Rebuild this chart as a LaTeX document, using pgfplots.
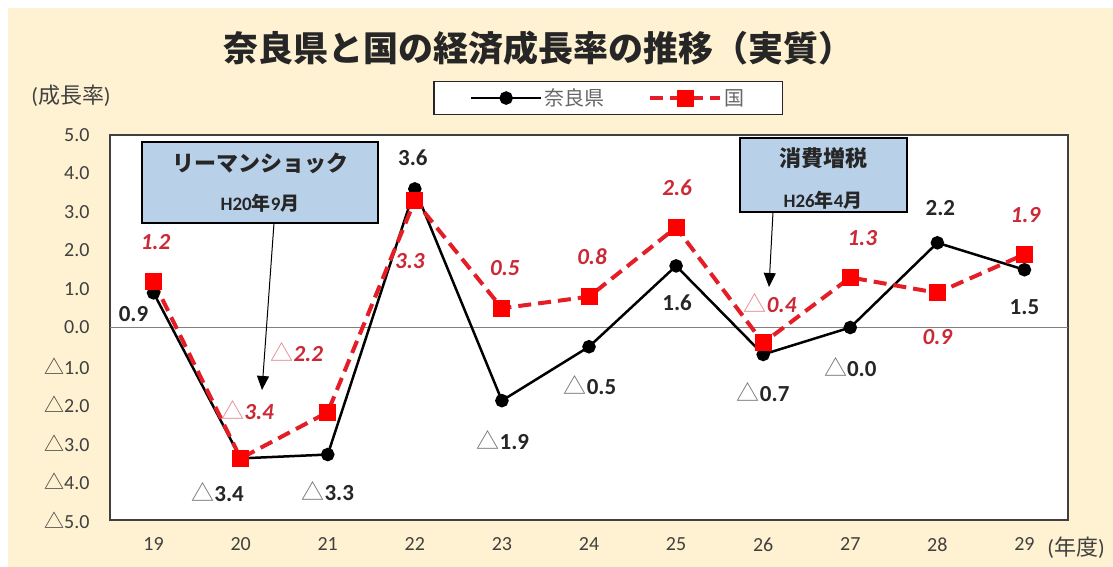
\documentclass[border=0pt]{standalone}
\usepackage{pgfplots}
\pgfplotsset{compat=1.18}
\usetikzlibrary{arrows.meta}
\usepackage{fontspec}
\setmainfont{Carlito}
\newfontfamily\cjk{Noto Sans CJK JP}

\definecolor{bgcream}{HTML}{FFF2D2}
\definecolor{boxblue}{HTML}{B9D1E8}
\definecolor{kunired}{HTML}{E41E26}
\definecolor{kunitext}{HTML}{CC2936}
\definecolor{tickgray}{HTML}{404040}

\newcommand{\tri}{{\cjk\mdseries\upshape △}}
\newcommand{\trig}{{\color{black!55}\tri}}
\newcommand{\trir}{{\color{kunitext!55!white}\tri}}

\begin{document}
\begin{tikzpicture}[x=1pt,y=1pt,
  nara/.style={font=\fontsize{23}{26}\selectfont\bfseries, text=black!85},
  kuni/.style={font=\fontsize{23}{26}\selectfont\bfseries\itshape, text=kunitext}]
\useasboundingbox (0,0) rectangle (1113,567);
\fill[bgcream] (0,0) rectangle (1113,567);
\fill[white] (0,559) rectangle (1113,567);
\fill[white] (0,0) rectangle (8,567);

% title
\node[font=\cjk\bfseries\fontsize{35}{40}\selectfont, text=black!85] at (538,519) {奈良県と国の経済成長率の推移（実質）};
\node[font=\fontsize{22}{26}\selectfont, text=tickgray] at (71,471) {({\cjk 成長率})};
\node[font=\fontsize{22}{26}\selectfont, text=tickgray] at (1076,19) {({\cjk 年度})};

\begin{axis}[
  at={(110pt,47pt)}, anchor=south west,
  width=958pt, height=385pt, scale only axis,
  xmin=18.5, xmax=29.5, ymin=-5, ymax=5,
  axis background/.style={fill=white},
  axis line style={draw=black!75, line width=1.5pt},
  xtick={19,20,21,22,23,24,25,26,27,28,29},
  /pgf/number format/assume math mode=true,
  ytick={-5,-4,-3,-2,-1,0,1,2,3,4,5},
  yticklabels={\tri5.0,\tri4.0,\tri3.0,\tri2.0,\tri1.0,0.0,1.0,2.0,3.0,4.0,5.0},
  major tick length=0pt,
  tick label style={font=\fontsize{20}{24}\selectfont, text=tickgray},
  yticklabel style={xshift=-17pt},
  xticklabel style={yshift=-14pt},
  clip=false,
  legend columns=2,
  legend style={at={(0.52,1.096)}, anchor=center, draw=black!85, line width=1.2pt,
    fill=white, font=\cjk\fontsize{20}{24}\selectfont, text=black!60,
    inner xsep=36pt, inner ysep=5pt,
    /tikz/every even column/.append style={column sep=42pt}},
  legend image code/.code={\draw[#1, mark repeat=2, mark phase=2]
    plot coordinates {(0pt,0pt) (35pt,0pt) (70pt,0pt)};},
]
\addplot[gray, line width=1pt, forget plot] coordinates {(18.5,0) (29.5,0)};

\addplot[black, line width=2.5pt, mark=*, mark size=5.5pt] coordinates {
  (19,0.9) (20,-3.4) (21,-3.3) (22,3.6) (23,-1.9) (24,-0.5)
  (25,1.6) (26,-0.7) (27,0.0) (28,2.2) (29,1.5)};
\addlegendentry{奈良県}

\addplot[kunired, line width=4pt, dash pattern=on 13pt off 7pt,
  mark=square*, mark size=8pt, mark options={solid, fill=red, draw=red, line width=1pt}] coordinates {
  (19,1.2) (20,-3.4) (21,-2.2) (22,3.3) (23,0.5) (24,0.8)
  (25,2.6) (26,-0.4) (27,1.3) (28,0.9) (29,1.9)};
\addlegendentry{国}

% 奈良県 labels
\node[nara, xshift=-20pt, yshift=-21pt] at (axis cs:19,0.9) {0.9};
\node[nara, xshift=-23pt, yshift=-34pt] at (axis cs:20,-3.4) {\trig3.4};
\node[nara, xshift=0pt, yshift=-37pt] at (axis cs:21,-3.3) {\trig3.3};
\node[nara, xshift=-2pt, yshift=31pt] at (axis cs:22,3.6) {3.6};
\node[nara, xshift=1pt, yshift=-39pt] at (axis cs:23,-1.9) {\trig1.9};
\node[nara, xshift=1pt, yshift=-38pt] at (axis cs:24,-0.5) {\trig0.5};
\node[nara, xshift=1pt, yshift=-37pt] at (axis cs:25,1.6) {1.6};
\node[nara, xshift=0pt, yshift=-38pt] at (axis cs:26,-0.7) {\trig0.7};
\node[nara, xshift=0pt, yshift=-40pt] at (axis cs:27,0.0) {\trig0.0};
\node[nara, xshift=3pt, yshift=35pt] at (axis cs:28,2.2) {2.2};
\node[nara, xshift=0pt, yshift=-37pt] at (axis cs:29,1.5) {1.5};

% 国 labels
\node[kuni, xshift=2pt, yshift=39pt] at (axis cs:19,1.2) {1.2};
\node[kuni, xshift=7pt, yshift=48pt] at (axis cs:20,-3.4) {\trir3.4};
\node[kuni, xshift=-31pt, yshift=60pt] at (axis cs:21,-2.2) {\trir2.2};
\node[kuni, xshift=-5pt, yshift=-61pt] at (axis cs:22,3.3) {3.3};
\node[kuni, xshift=3pt, yshift=40pt] at (axis cs:23,0.5) {0.5};
\node[kuni, xshift=3pt, yshift=40pt] at (axis cs:24,0.8) {0.8};
\node[kuni, xshift=1pt, yshift=40pt] at (axis cs:25,2.6) {2.6};
\node[kuni, xshift=7pt, yshift=40pt] at (axis cs:26,-0.4) {\trir0.4};
\node[kuni, xshift=12pt, yshift=39pt] at (axis cs:27,1.3) {1.3};
\node[kuni, xshift=0pt, yshift=-44pt] at (axis cs:28,0.9) {0.9};
\node[kuni, xshift=1pt, yshift=39pt] at (axis cs:29,1.9) {1.9};
\end{axis}

% annotations
\draw[black, line width=1pt, -{Triangle[length=14pt,width=12pt]}] (274,344) -- (262,177);
\filldraw[fill=boxblue, draw=black, line width=2.5pt] (142,344) rectangle (378,425);
\node[font=\cjk\bfseries\fontsize{22}{26}\selectfont, text=black!85] at (260,404) {リーマンショック};
\node[font=\bfseries\fontsize{19}{22}\selectfont, text=black!85] at (260,364) {H20{\cjk 年}9{\cjk 月}};

\draw[black, line width=1pt, -{Triangle[length=14pt,width=12pt]}] (773,355) -- (769,280);
\filldraw[fill=boxblue, draw=black, line width=2.5pt] (740,355) rectangle (907,429);
\node[font=\cjk\bfseries\fontsize{22}{26}\selectfont, text=black!85] at (823,409) {消費増税};
\node[font=\bfseries\fontsize{19}{22}\selectfont, text=black!85] at (823,367) {H26{\cjk 年}4{\cjk 月}};
\end{tikzpicture}
\end{document}
